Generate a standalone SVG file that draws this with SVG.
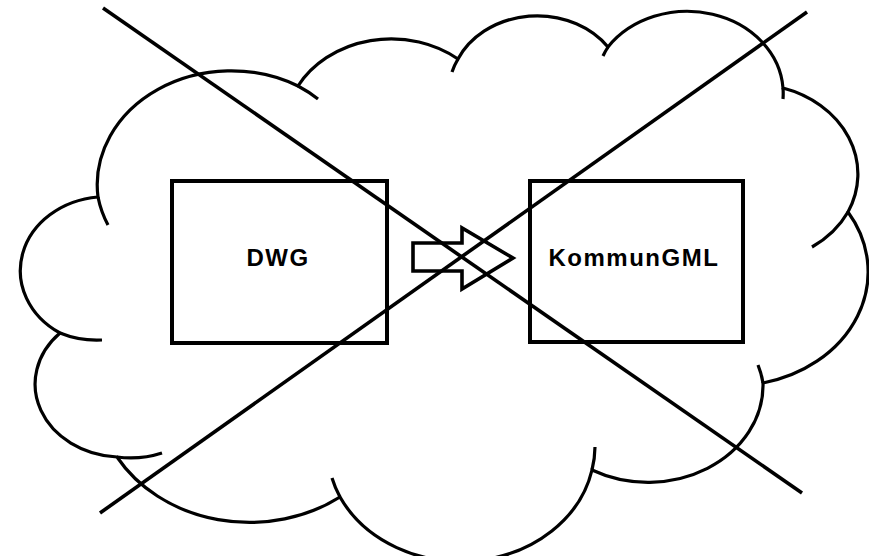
<svg xmlns="http://www.w3.org/2000/svg" width="869" height="556" viewBox="0 0 869 556">
  <style>
    .cloud { fill: none; stroke: #000; stroke-width: 3.2; stroke-linecap: butt; }
    .box { fill: none; stroke: #000; stroke-width: 4; }
    .cross { stroke: #000; stroke-width: 3.6; stroke-linecap: butt; }
    .arrow { fill: #fff; stroke: #000; stroke-width: 3.6; stroke-linejoin: miter; }
    .label { font-family: "Liberation Sans", Arial, sans-serif; font-weight: bold; font-size: 24px; letter-spacing: 1.5px; fill: #000; }
  </style>

  <rect width="869" height="556" fill="#fff"/>

  <!-- cloud outline: eleven lobes drawn clockwise -->
  <g id="cloud">
    <path class="cloud" d="M98,197
      A134,114 0 0 1 298,86
      A106,90 0 0 1 458,59
      A87,74 0 0 1 608,47
      A96,82 0 0 1 783,88
      A106,90 0 0 1 848,212
      A135,114 0 0 1 763,383
      A115,97 0 0 1 592,470
      A134,114 0 0 1 340,497
      A153,131 0 0 1 117,457
      A87,73 0 0 1 60,333
      A86,74 0 0 1 98,197 Z"/>
    <!-- inner tails continuing the lobe arcs -->
    <path class="cloud" d="M108,225 A134,114 0 0 1 98,197
      M298,86 A134,114 0 0 1 318,99
      M452,72 A87,74 0 0 1 458,59
      M603,56 A96,82 0 0 1 608,47
      M783,88 A96,82 0 0 1 783,99
      M848,212 A106,90 0 0 1 812,247
      M758,365 A115,97 0 0 1 763,383
      M595,447 A134,114 0 0 1 592,470
      M340,497 A134,114 0 0 1 332,478
      M162,453 A87,73 0 0 1 117,457
      M102,340 A86,74 0 0 1 60,333"/>
  </g>

  <g id="dwg">
    <rect class="box" x="172" y="181" width="215" height="162"/>
    <text class="label" x="246.5" y="266">DWG</text>
  </g>

  <g id="kommungml">
    <rect class="box" x="530" y="181" width="213" height="161"/>
    <text class="label" x="548.5" y="266">KommunGML</text>
  </g>

  <g id="connectors">
    <polygon class="arrow" points="413,243 462,243 462,228 513,258 462,289 462,271 413,271"/>
  </g>

  <!-- crossing strike lines -->
  <g id="strike">
    <line class="cross" x1="103" y1="8" x2="802" y2="493"/>
    <line class="cross" x1="807" y1="12" x2="100" y2="513"/>
  </g>
</svg>
